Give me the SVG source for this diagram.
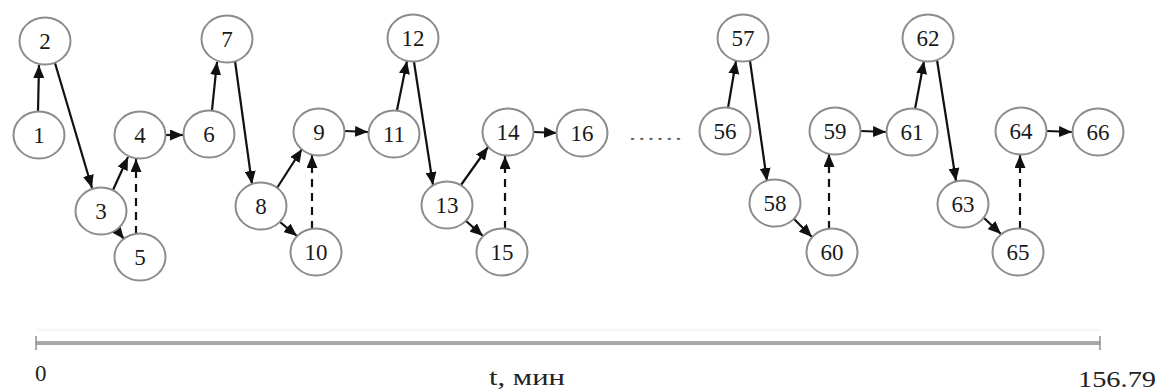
<svg xmlns="http://www.w3.org/2000/svg" width="1160" height="390" viewBox="0 0 1160 390">
  <style>
    .node ellipse { fill: #ffffff; stroke: #8c8c8c; stroke-width: 2; }
    .node text { font-family: "Liberation Serif", "Times New Roman", serif; font-size: 23px; fill: #1a1a1a; text-anchor: middle; }
    .edge { stroke: #111111; stroke-width: 2.2; fill: none; marker-end: url(#arrow); }
    .dashed { stroke-dasharray: 8 6; }
    .axis { stroke: #a8a8a8; stroke-width: 4; }
    .tick { stroke: #8c8c8c; stroke-width: 1.5; }
    .label { font-family: "Liberation Serif", "Times New Roman", serif; font-size: 23px; fill: #222222; }
  </style>
  <defs>
    <marker id="arrow" markerUnits="userSpaceOnUse" markerWidth="13" markerHeight="11" refX="13" refY="5.5" orient="auto">
      <path d="M0,0 L13,5.5 L0,11 Z" fill="#111111"/>
    </marker>
  </defs>
  <rect width="1160" height="390" fill="#ffffff"/>

  <g id="connectors">
    <line class="edge" x1="38" y1="111" x2="39" y2="65"/>
    <line class="edge" x1="55" y1="63" x2="92" y2="188"/>
    <line class="edge" x1="113" y1="190" x2="128" y2="157"/>
    <line class="edge" x1="116" y1="229" x2="124" y2="239"/>
    <line class="edge dashed" x1="136" y1="234" x2="136" y2="159"/>
    <line class="edge" x1="166" y1="135" x2="183" y2="135"/>
    <line class="edge" x1="212" y1="110" x2="217" y2="62"/>
    <line class="edge" x1="235" y1="61" x2="252" y2="184"/>
    <line class="edge" x1="277" y1="188" x2="302" y2="149"/>
    <line class="edge" x1="280" y1="222" x2="297" y2="236"/>
    <line class="edge dashed" x1="312" y1="229" x2="312" y2="155"/>
    <line class="edge" x1="345" y1="131" x2="368" y2="132"/>
    <line class="edge" x1="397" y1="110" x2="407" y2="61"/>
    <line class="edge" x1="414" y1="62" x2="433" y2="185"/>
    <line class="edge" x1="461" y1="185" x2="488" y2="147"/>
    <line class="edge" x1="466" y1="221" x2="483" y2="236"/>
    <line class="edge dashed" x1="505" y1="229" x2="505" y2="156"/>
    <line class="edge" x1="534" y1="132" x2="557" y2="133"/>
    <line class="edge" x1="728" y1="108" x2="736" y2="61"/>
    <line class="edge" x1="750" y1="61" x2="767" y2="181"/>
    <line class="edge" x1="794" y1="219" x2="812" y2="237"/>
    <line class="edge dashed" x1="829" y1="229" x2="829" y2="154"/>
    <line class="edge" x1="861" y1="131" x2="886" y2="132"/>
    <line class="edge" x1="915" y1="109" x2="924" y2="61"/>
    <line class="edge" x1="937" y1="60" x2="956" y2="181"/>
    <line class="edge" x1="984" y1="218" x2="1001" y2="234"/>
    <line class="edge dashed" x1="1020" y1="229" x2="1020" y2="155"/>
    <line class="edge" x1="1047" y1="131" x2="1072" y2="132"/>
  </g>

  <g id="n1" class="node"><ellipse cx="39" cy="135" rx="25.5" ry="23.5"/><text x="39" y="143">1</text></g>
  <g id="n2" class="node"><ellipse cx="45" cy="41" rx="25.5" ry="23.5"/><text x="45" y="49">2</text></g>
  <g id="n3" class="node"><ellipse cx="101" cy="211" rx="25.5" ry="23.5"/><text x="101" y="219">3</text></g>
  <g id="n4" class="node"><ellipse cx="140" cy="135" rx="25.5" ry="23.5"/><text x="140" y="143">4</text></g>
  <g id="n5" class="node"><ellipse cx="140" cy="257" rx="25.5" ry="23.5"/><text x="140" y="265">5</text></g>
  <g id="n6" class="node"><ellipse cx="209" cy="134" rx="25.5" ry="23.5"/><text x="209" y="142">6</text></g>
  <g id="n7" class="node"><ellipse cx="227" cy="39" rx="25.5" ry="23.5"/><text x="227" y="47">7</text></g>
  <g id="n8" class="node"><ellipse cx="261" cy="206" rx="25.5" ry="23.5"/><text x="261" y="214">8</text></g>
  <g id="n9" class="node"><ellipse cx="319" cy="132" rx="25.5" ry="23.5"/><text x="319" y="140">9</text></g>
  <g id="n10" class="node"><ellipse cx="316" cy="252" rx="25.5" ry="23.5"/><text x="316" y="260">10</text></g>
  <g id="n11" class="node"><ellipse cx="394" cy="134" rx="25.5" ry="23.5"/><text x="394" y="142">11</text></g>
  <g id="n12" class="node"><ellipse cx="413" cy="38" rx="25.5" ry="23.5"/><text x="413" y="46">12</text></g>
  <g id="n13" class="node"><ellipse cx="447" cy="205" rx="25.5" ry="23.5"/><text x="447" y="213">13</text></g>
  <g id="n14" class="node"><ellipse cx="508" cy="132" rx="25.5" ry="23.5"/><text x="508" y="140">14</text></g>
  <g id="n15" class="node"><ellipse cx="502" cy="252" rx="25.5" ry="23.5"/><text x="502" y="260">15</text></g>
  <g id="n16" class="node"><ellipse cx="582" cy="133" rx="25.5" ry="23.5"/><text x="582" y="141">16</text></g>

  <g id="ellipsis"><text class="label" x="628" y="140" textLength="55" lengthAdjust="spacingAndGlyphs" style="font-size:18px;fill:#666666">……</text></g>

  <g id="n56" class="node"><ellipse cx="725" cy="131" rx="25.5" ry="23.5"/><text x="725" y="139">56</text></g>
  <g id="n57" class="node"><ellipse cx="743" cy="38" rx="25.5" ry="23.5"/><text x="743" y="46">57</text></g>
  <g id="n58" class="node"><ellipse cx="775" cy="203" rx="25.5" ry="23.5"/><text x="775" y="211">58</text></g>
  <g id="n59" class="node"><ellipse cx="835" cy="131" rx="25.5" ry="23.5"/><text x="835" y="139">59</text></g>
  <g id="n60" class="node"><ellipse cx="832" cy="252" rx="25.5" ry="23.5"/><text x="832" y="260">60</text></g>
  <g id="n61" class="node"><ellipse cx="912" cy="132" rx="25.5" ry="23.5"/><text x="912" y="140">61</text></g>
  <g id="n62" class="node"><ellipse cx="928" cy="38" rx="25.5" ry="23.5"/><text x="928" y="46">62</text></g>
  <g id="n63" class="node"><ellipse cx="963" cy="204" rx="25.5" ry="23.5"/><text x="963" y="212">63</text></g>
  <g id="n64" class="node"><ellipse cx="1021" cy="131" rx="25.5" ry="23.5"/><text x="1021" y="139">64</text></g>
  <g id="n65" class="node"><ellipse cx="1018" cy="252" rx="25.5" ry="23.5"/><text x="1018" y="260">65</text></g>
  <g id="n66" class="node"><ellipse cx="1098" cy="132" rx="25.5" ry="23.5"/><text x="1098" y="140">66</text></g>

  <g id="time-axis">
    <line x1="37" y1="330" x2="1100" y2="330" stroke="#eeeeee" stroke-width="1"/>
    <line class="axis" x1="36" y1="343" x2="1100" y2="343"/>
    <line class="tick" x1="36" y1="336" x2="36" y2="350"/>
    <line class="tick" x1="1100" y1="336" x2="1100" y2="350"/>
    <text class="label" x="35" y="381">0</text>
    <text class="label" x="489" y="385" textLength="76" lengthAdjust="spacingAndGlyphs">t, мин</text>
    <text class="label" x="1078" y="387" textLength="78" lengthAdjust="spacingAndGlyphs">156.79</text>
  </g>
</svg>
